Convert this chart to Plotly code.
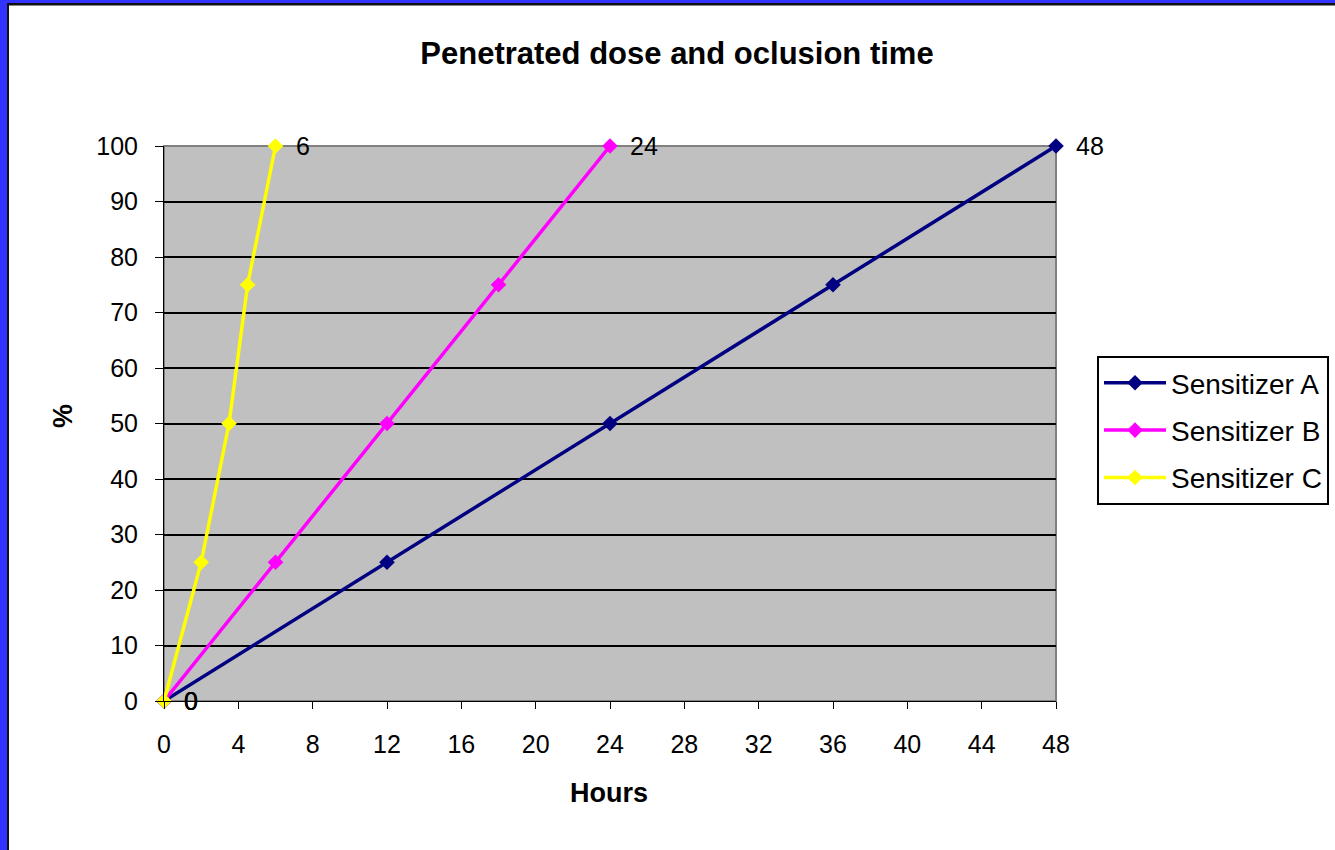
import plotly.graph_objects as go

# Occlusion time (hours) vs penetrated dose (%)
hours_a = [0, 12, 24, 36, 48]
hours_b = [0, 6, 12, 18, 24]
hours_c = [0, 2, 3.5, 4.5, 6]
dose = [0, 25, 50, 75, 100]

series_names = ["Sensitizer A", "Sensitizer B", "Sensitizer C"]
series_colors = ["#000080", "#FF00FF", "#FFFF00"]

x_ticks = [0, 4, 8, 12, 16, 20, 24, 28, 32, 36, 40, 44, 48]
y_ticks = [0, 10, 20, 30, 40, 50, 60, 70, 80, 90, 100]

W, H = 1335, 850
L, R, T, B = 164, 1056, 146, 701  # plot area in pixels


def px(x):
    return (x - L) / (R - L)


def py(y):
    return (B - y) / (B - T)


font = "Liberation Sans, Arial, sans-serif"
TXT = 25

fig = go.Figure()
annotations = []
for name, color, xs in zip(series_names, series_colors, [hours_a, hours_b, hours_c]):
    fig.add_trace(go.Scatter(
        x=xs, y=dose, name=name, legendgroup=name,
        mode="lines+markers",
        line=dict(color=color, width=3.5),
        marker=dict(symbol="diamond", size=12, color=color),
        cliponaxis=False,
    ))
    # label the first and last point with their hour value
    for i in (0, -1):
        annotations.append(dict(
            x=xs[i], y=dose[i], xref="x", yref="y",
            text=f"{xs[i]:g}", showarrow=False,
            xanchor="left", yanchor="middle", xshift=18,
            font=dict(family=font, size=TXT, color="black"),
        ))

annotations += [
    dict(text="<b>Hours</b>", x=px(609), y=py(793), xref="paper", yref="paper",
         showarrow=False, xanchor="center", yanchor="middle",
         font=dict(family=font, size=27, color="black")),
    dict(text="<b>%</b>", x=px(63), y=py(416), xref="paper", yref="paper",
         showarrow=False, xanchor="center", yanchor="middle", textangle=-90,
         font=dict(family=font, size=27, color="black")),
]

shapes = [
    # plot-area frame
    dict(type="rect", xref="paper", yref="paper", x0=0, x1=1, y0=0, y1=1,
         line=dict(color="#808080", width=2), layer="below"),
    # slide frame: blue band with a dark inner line
    dict(type="rect", xref="paper", yref="paper", x0=px(0), x1=px(7), y0=py(850), y1=py(0),
         fillcolor="#3333FF", line=dict(width=0)),
    dict(type="rect", xref="paper", yref="paper", x0=px(0), x1=px(1335), y0=py(3), y1=py(0),
         fillcolor="#3333FF", line=dict(width=0)),
    dict(type="rect", xref="paper", yref="paper", x0=px(7), x1=px(9), y0=py(850), y1=py(3),
         fillcolor="#111111", line=dict(width=0)),
    dict(type="rect", xref="paper", yref="paper", x0=px(7), x1=px(1335), y0=py(5), y1=py(3),
         fillcolor="#111111", line=dict(width=0)),
    dict(type="rect", xref="paper", yref="paper", x0=px(9), x1=px(1335), y0=py(6), y1=py(5),
         fillcolor="#888888", line=dict(width=0)),
]

fig.update_layout(
    width=W, height=H,
    margin=dict(l=L, r=W - R, t=T, b=H - B, autoexpand=False),
    paper_bgcolor="white",
    plot_bgcolor="#C0C0C0",
    font=dict(family=font, size=TXT, color="black"),
    title=dict(text="<b>Penetrated dose and oclusion time</b>", x=px(677), xref="paper",
               xanchor="center", y=1 - 53 / H, yanchor="middle",
               font=dict(size=31)),
    xaxis=dict(
        range=[0, 48], tickvals=x_ticks, ticktext=[str(v) for v in x_ticks],
        showgrid=False, zeroline=False,
        showline=True, linecolor="black", linewidth=1,
        ticks="outside", ticklen=7, tickcolor="black",
        ticklabelstandoff=14,
        tickfont=dict(size=TXT),
    ),
    yaxis=dict(
        range=[0, 100], tickvals=y_ticks, ticktext=[str(v) for v in y_ticks],
        showgrid=True, gridcolor="black", gridwidth=2, zeroline=False,
        showline=True, linecolor="black", linewidth=1,
        ticks="outside", ticklen=8, tickcolor="black",
        ticklabelstandoff=12,
        tickfont=dict(size=TXT),
    ),
    legend=dict(
        x=px(1097), y=py(356), xanchor="left", yanchor="top",
        bgcolor="white", bordercolor="black", borderwidth=2,
        font=dict(size=28), itemwidth=62, tracegroupgap=8,
    ),
    annotations=annotations,
    shapes=shapes,
    showlegend=True,
)

fig.write_html("out.html")
